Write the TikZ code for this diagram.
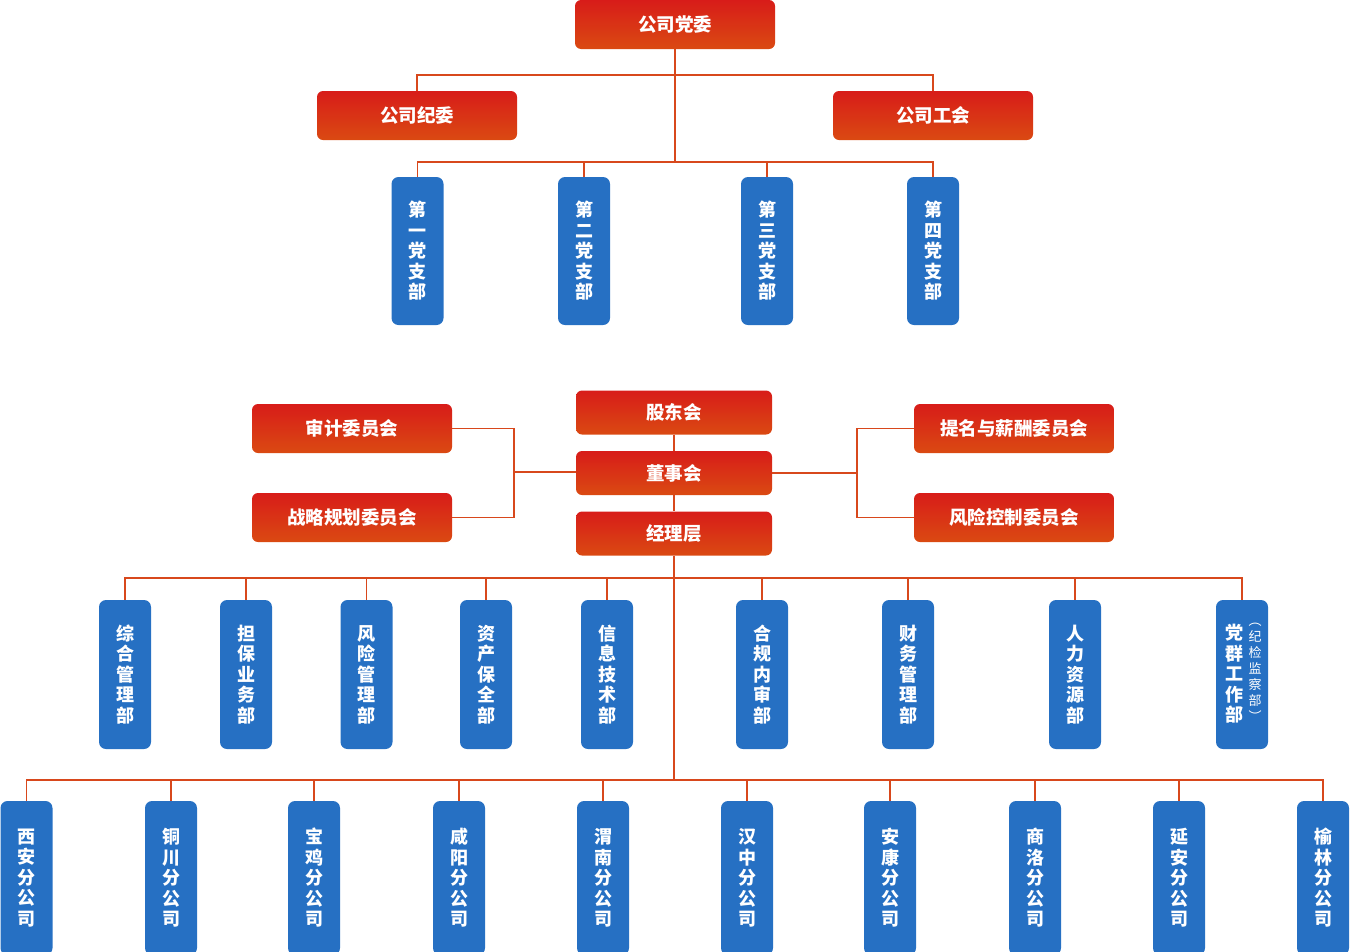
\documentclass[tikz,border=0pt]{standalone}
\usepackage{fontspec}
\setmainfont{Noto Sans CJK SC}
\definecolor{redTop}{RGB}{216,28,25}
\definecolor{redBot}{RGB}{218,74,18}
\definecolor{blueBox}{RGB}{38,112,195}
\definecolor{lineC}{RGB}{216,72,28}
\tikzset{
  redbox/.style={rounded corners=6pt, top color=redTop, bottom color=redBot, draw=none, text=white,
    font=\fontsize{18.5}{22}\selectfont\bfseries, minimum width=200pt, minimum height=49pt, inner sep=0pt},
  midbox/.style={redbox, minimum width=196pt, minimum height=44pt},
  bluebox/.style={rounded corners=7pt, fill=blueBox, draw=none, text=white, align=center,
    font=\fontsize{18}{20.5}\selectfont\bfseries, minimum width=52pt, inner sep=0pt},
  brbox/.style={bluebox, minimum height=148pt},
  depbox/.style={bluebox, minimum height=149pt},
  combox/.style={bluebox, minimum height=154pt},
  vtext/.style={text=white, align=center, inner sep=0pt, font=\fontsize{18}{20.5}\selectfont\bfseries},
  smalltext/.style={text=white, align=center, inner sep=0pt, font=\fontsize{13}{16}\selectfont},
  conn/.style={draw=lineC, line width=1.2pt}
}
\begin{document}
\begin{tikzpicture}[x=1pt,y=-1pt]
\useasboundingbox (0,0) rectangle (1350,951);
\clip (0,0) rectangle (1350,951);
% ---- party section
\node[redbox] (dw) at (675,24.5) {公司党委};
\node[redbox] (jw) at (417,115.5) {公司纪委};
\node[redbox] (gh) at (933,115.5) {公司工会};
\coordinate (busA) at (675,75);
\coordinate (busB) at (675,162);
\node[brbox] (b1) at (417.5,251) {第\\一\\党\\支\\部};
\node[brbox] (b2) at (584,251) {第\\二\\党\\支\\部};
\node[brbox] (b3) at (767,251) {第\\三\\党\\支\\部};
\node[brbox] (b4) at (933,251) {第\\四\\党\\支\\部};
\draw[conn] (dw.south) -- (busB);
\draw[conn] (jw.north) -- (jw.north |- busA) -- (gh.north |- busA) -- (gh.north);
\draw[conn] (b1.north) -- (b1.north |- busB) -- (b4.north |- busB) -- (b4.north);
\draw[conn] (b2.north) -- (b2.north |- busB);
\draw[conn] (b3.north) -- (b3.north |- busB);
% ---- governance section
\node[midbox] (gd) at (674,412.5) {股东会};
\node[midbox] (dsh) at (674,473) {董事会};
\node[midbox] (jl) at (674,533.5) {经理层};
\node[redbox] (sj) at (352,428.5) {审计委员会};
\node[redbox] (zl) at (352,517.5) {战略规划委员会};
\node[redbox] (tm) at (1014,428.5) {提名与薪酬委员会};
\node[redbox] (fx) at (1014,517.5) {风险控制委员会};
\coordinate (cL) at (514,472);
\coordinate (cR) at (857,473);
\draw[conn] (gd.south) -- (dsh.north);
\draw[conn] (dsh.south) -- (jl.north);
\draw[conn] (sj.east) -| (cL);
\draw[conn] (zl.east) -| (cL);
\draw[conn] (cL) -- (dsh.west |- cL);
\draw[conn] (tm.west) -| (cR);
\draw[conn] (fx.west) -| (cR);
\draw[conn] (cR) -- (dsh.east);
% ---- departments
\coordinate (busD) at (674,578);
\coordinate (busE) at (674,780);
\draw[conn] (jl.south) -- (busE);
\node[depbox] (d1) at (125,674.5) {综\\合\\管\\理\\部};
\node[depbox] (d2) at (246,674.5) {担\\保\\业\\务\\部};
\node[depbox] (d3) at (366.5,674.5) {风\\险\\管\\理\\部};
\node[depbox] (d4) at (486,674.5) {资\\产\\保\\全\\部};
\node[depbox] (d5) at (607,674.5) {信\\息\\技\\术\\部};
\node[depbox] (d6) at (762,674.5) {合\\规\\内\\审\\部};
\node[depbox] (d7) at (908,674.5) {财\\务\\管\\理\\部};
\node[depbox] (d8) at (1075,674.5) {人\\力\\资\\源\\部};
\node[depbox] (d9) at (1242,674.5) {};
\node[vtext] (d9a) at (1234,674) {党\\群\\工\\作\\部};
\node[smalltext] (d9b) at (1255,672.5) {︵\\纪\\检\\监\\察\\部\\︶};
\draw[conn] (d1.north) -- (d1.north |- busD) -- (d9.north |- busD) -- (d9.north);
\foreach \n in {d2,d3,d4,d5,d6,d7,d8}{\draw[conn] (\n.north) -- (\n.north |- busD);}
% ---- branch companies
\node[combox] (c1) at (26.5,878) {西\\安\\分\\公\\司};
\node[combox] (c2) at (171,878) {铜\\川\\分\\公\\司};
\node[combox] (c3) at (314,878) {宝\\鸡\\分\\公\\司};
\node[combox] (c4) at (459,878) {咸\\阳\\分\\公\\司};
\node[combox] (c5) at (603,878) {渭\\南\\分\\公\\司};
\node[combox] (c6) at (747,878) {汉\\中\\分\\公\\司};
\node[combox] (c7) at (890,878) {安\\康\\分\\公\\司};
\node[combox] (c8) at (1035,878) {商\\洛\\分\\公\\司};
\node[combox] (c9) at (1179,878) {延\\安\\分\\公\\司};
\node[combox] (c10) at (1323,878) {榆\\林\\分\\公\\司};
\draw[conn] (c1.north) -- (c1.north |- busE) -- (c10.north |- busE) -- (c10.north);
\foreach \n in {c2,c3,c4,c5,c6,c7,c8,c9}{\draw[conn] (\n.north) -- (\n.north |- busE);}
\end{tikzpicture}
\end{document}
